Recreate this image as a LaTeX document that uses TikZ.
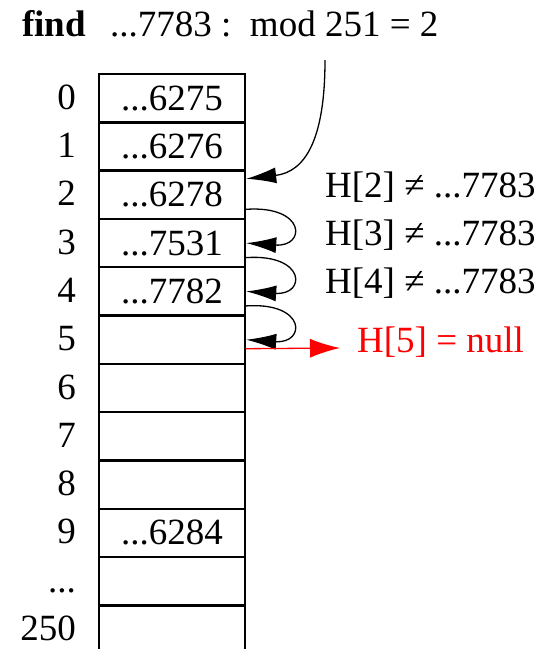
\documentclass[tikz,border=0pt]{standalone}
\usepackage{fontspec}
\setmainfont{Liberation Serif}
\usetikzlibrary{arrows.meta}

\tikzset{
  slot/.style={draw, line width=2.4pt, minimum width=146pt, minimum height=48.3pt, inner sep=0pt},
  txt/.style={inner sep=0pt, anchor=base west},
  idx/.style={inner sep=0pt, anchor=base east},
  probe/.style={line width=1.3pt, -{Latex[length=30pt,width=16pt]}},
  hit/.style={red, line width=1.3pt, -{Latex[length=30pt,width=19pt]}},
}

\begin{document}
\begin{tikzpicture}[x=1pt, y=-1pt, font=\fontsize{37}{44}\selectfont]
    \useasboundingbox (0,0) rectangle (540,649);

    \node[txt] (find) at (22,36) {\bfseries find};
    \node[txt] (key) at (110,36) {...7783 :\ \ mod 251 = 2};
    \coordinate (hash) at (325,60);

    \foreach \i/\lbl/\val in {0/0/{...6275}, 1/1/{...6276}, 2/2/{...6278}, 3/3/{...7531},
        4/4/{...7782}, 5/5/{}, 6/6/{}, 7/7/{}, 8/8/{}, 9/9/{...6284}, 10/{...}/{}, 11/250/{}} {
        \node[slot] (c\i) at (172, 98.2+48.3*\i) {\val};
        \node[idx] (r\i) at (76, 109.2+48.3*\i) {\lbl};
    }

    \node[txt] (h2) at (325,197) {H[2] ≠ ...7783};
    \node[txt] (h3) at (325,245) {H[3] ≠ ...7783};
    \node[txt] (h4) at (325,293) {H[4] ≠ ...7783};
    \node[txt, red] (h5) at (357,352) {H[5] = null};

    \draw[probe] (hash) .. controls (325,140) and (305,172) .. ([yshift=16pt]c2.east);
    \foreach \a/\b in {2/3, 3/4, 4/5} {
        \draw[probe] ([yshift=-14.5pt]c\a.east) .. controls +(60,-4) and +(60,4) .. (c\b.east);
    }
    \draw[hit] ([yshift=-9pt]c5.east) -- ([xshift=-17pt,yshift=4pt]h5.base west);
\end{tikzpicture}
\end{document}
